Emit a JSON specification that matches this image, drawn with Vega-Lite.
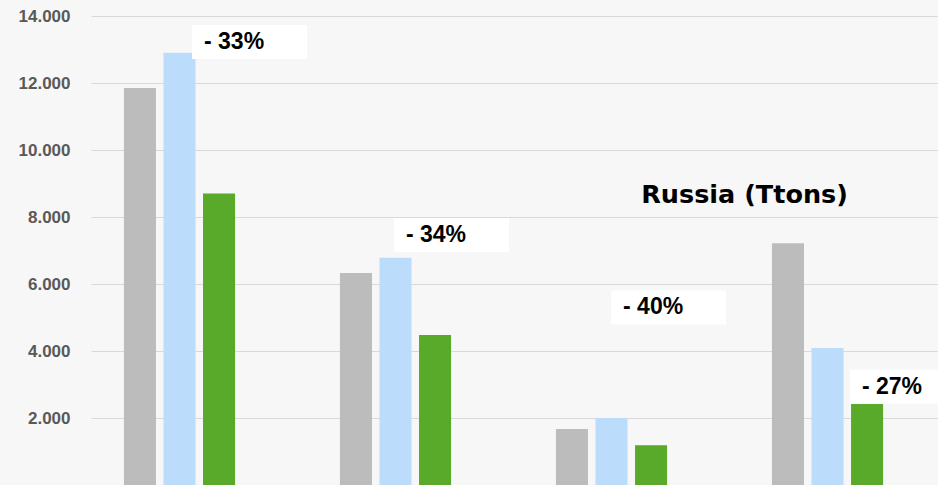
{
  "$schema": "https://vega.github.io/schema/vega-lite/v6.json",
  "width": 847,
  "height": 469,
  "autosize": "none",
  "padding": {"left": 91, "top": 16, "right": 0, "bottom": 0},
  "background": "#f7f7f7",
  "config": {
    "view": {"stroke": null},
    "font": "Liberation Sans"
  },
  "datasets": {
    "bars": [
      {"group": "1", "series": "Series 1", "value": 11850},
      {"group": "1", "series": "Series 2", "value": 12900},
      {"group": "1", "series": "Series 3", "value": 8700},
      {"group": "2", "series": "Series 1", "value": 6330},
      {"group": "2", "series": "Series 2", "value": 6780},
      {"group": "2", "series": "Series 3", "value": 4480},
      {"group": "3", "series": "Series 1", "value": 1670},
      {"group": "3", "series": "Series 2", "value": 2000},
      {"group": "3", "series": "Series 3", "value": 1190},
      {"group": "4", "series": "Series 1", "value": 7220},
      {"group": "4", "series": "Series 2", "value": 4090},
      {"group": "4", "series": "Series 3", "value": 2420}
    ],
    "labels": [
      {"label": "- 33%", "pos": 0.058, "value": 13224},
      {"label": "- 34%", "pos": 0.993, "value": 7463},
      {"label": "- 40%", "pos": 1.998, "value": 5299},
      {"label": "- 27%", "pos": 3.104, "value": 2940}
    ],
    "title": [
      {"label": "Russia (Ttons)", "pos": 2.616, "value": 8418}
    ]
  },
  "encoding": {
    "y": {
      "field": "value",
      "type": "quantitative",
      "scale": {"domain": [0, 14000], "nice": false, "zero": true},
      "axis": {
        "title": null,
        "values": [0, 2000, 4000, 6000, 8000, 10000, 12000, 14000],
        "labelExpr": "datum.value == 0 ? '' : replace(format(datum.value, ','), ',', '.')",
        "domain": false,
        "ticks": false,
        "labelPadding": 21,
        "labelFontSize": 17,
        "labelFontWeight": "bold",
        "labelColor": "#595959",
        "gridColor": "#d9d9d9",
        "gridWidth": 1
      }
    }
  },
  "layer": [
    {
      "data": {"name": "bars"},
      "mark": {"type": "bar"},
      "encoding": {
        "x": {
          "field": "group",
          "type": "nominal",
          "axis": null,
          "scale": {"paddingInner": 0.2, "paddingOuter": 0.0606, "align": 0.08, "round": false}
        },
        "xOffset": {
          "field": "series",
          "type": "nominal",
          "scale": {"paddingInner": 0.19, "paddingOuter": 0.78, "round": false}
        },
        "color": {
          "field": "series",
          "type": "nominal",
          "legend": null,
          "scale": {
            "domain": ["Series 1", "Series 2", "Series 3"],
            "range": ["#bcbcbc", "#bbddfb", "#59a92a"]
          }
        }
      }
    },
    {
      "data": {"name": "labels"},
      "mark": {
        "type": "point",
        "filled": true,
        "color": "#ffffff",
        "opacity": 1,
        "size": 13225,
        "shape": "M0,-0.296L2,-0.296L2,0.296L0,0.296Z"
      },
      "encoding": {
        "x": {
          "field": "pos",
          "type": "quantitative",
          "axis": null,
          "scale": {"domain": [-0.4097, 3.5116], "nice": false, "zero": false}
        }
      }
    },
    {
      "data": {"name": "labels"},
      "mark": {
        "type": "text",
        "align": "left",
        "baseline": "middle",
        "dx": 12,
        "fontSize": 23,
        "fontWeight": "bold",
        "color": "#000000"
      },
      "encoding": {
        "x": {
          "field": "pos",
          "type": "quantitative",
          "axis": null,
          "scale": {"domain": [-0.4097, 3.5116], "nice": false, "zero": false}
        },
        "text": {"field": "label"}
      }
    },
    {
      "data": {"name": "title"},
      "mark": {
        "type": "text",
        "align": "center",
        "baseline": "alphabetic",
        "font": "DejaVu Sans",
        "fontSize": 25.5,
        "fontWeight": "bold",
        "color": "#000000"
      },
      "encoding": {
        "x": {
          "field": "pos",
          "type": "quantitative",
          "axis": null,
          "scale": {"domain": [-0.4097, 3.5116], "nice": false, "zero": false}
        },
        "text": {"field": "label"}
      }
    }
  ],
  "resolve": {"scale": {"x": "independent"}}
}
